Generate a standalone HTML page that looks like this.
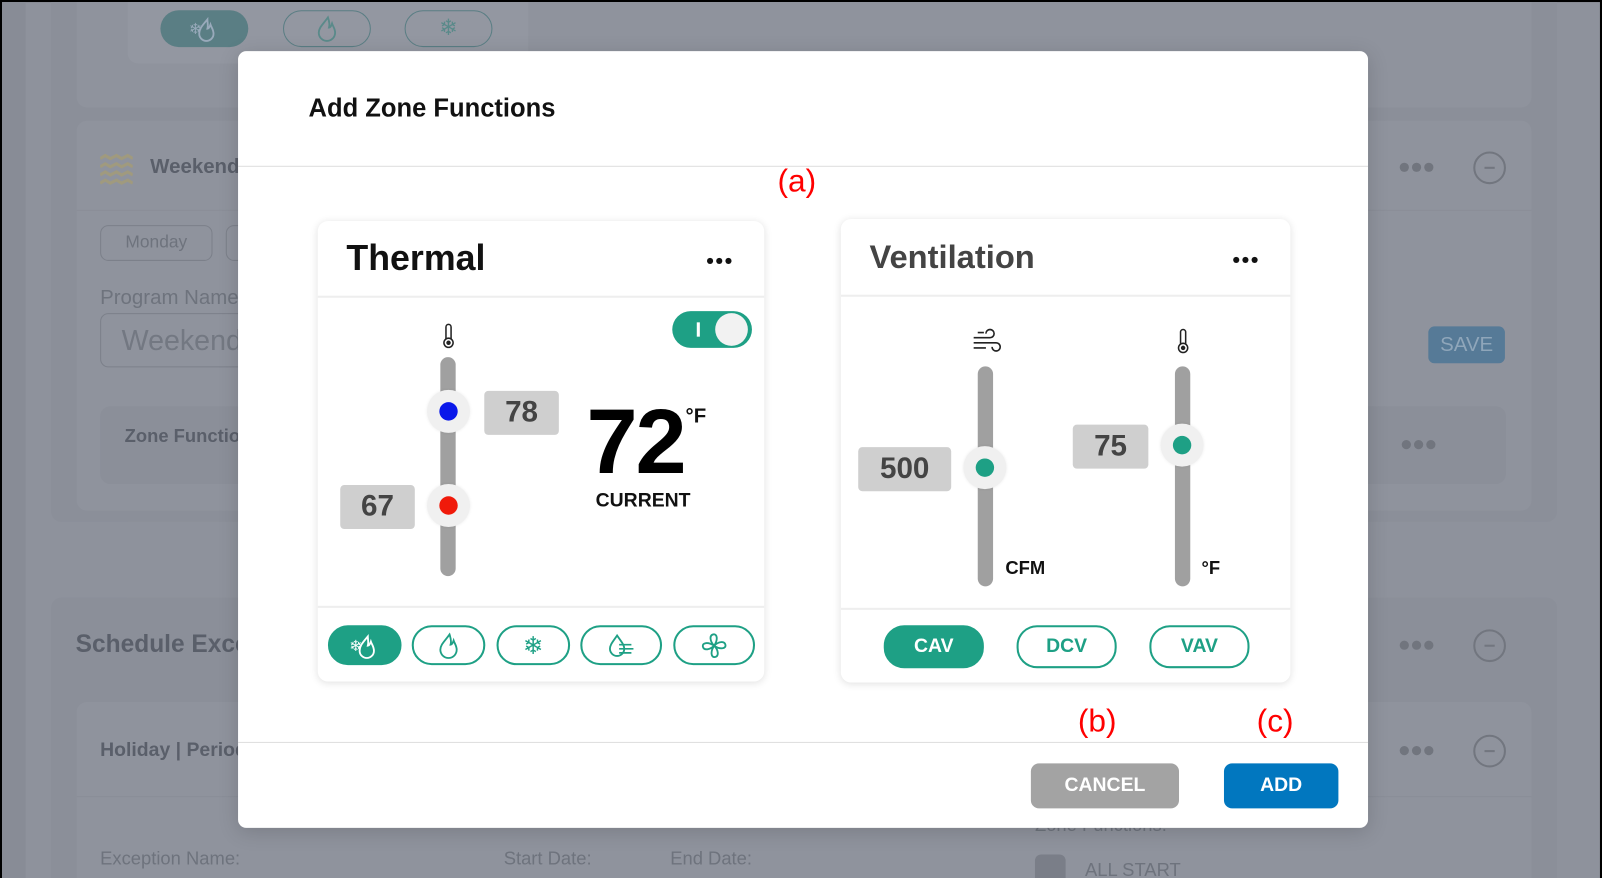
<!DOCTYPE html>
<html><head><meta charset="utf-8"><style>
*{margin:0;padding:0;box-sizing:border-box}
html,body{width:1602px;height:878px;overflow:hidden;background:#000}
#w{position:absolute;left:0;top:0;width:1568px;height:858px;transform:scale(1.02168,1.02331);transform-origin:0 0;background:#000;font-family:"Liberation Sans",sans-serif}
.a{position:absolute}
.bg{left:2px;top:2px;width:1564px;height:856px;background:#8e929c;overflow:hidden}
.dk{color:#5a5f6a;font-weight:bold}
.lt{color:#6e737d}
.pill{position:absolute;border:2px solid #1ea085;border-radius:20px;display:flex;align-items:center;justify-content:center;color:#1ea085;font-weight:bold;font-size:19px;background:#fff}
.pill.f{background:#1ea085;color:#fff}
.box{position:absolute;background:#cfcfcf;border-radius:4px;color:#444;font-weight:bold;font-size:29px;display:flex;align-items:center;justify-content:center}
.track{position:absolute;width:15px;background:#a0a0a0;border-radius:8px}
.knob{position:absolute;width:42px;height:42px;border-radius:50%;background:#f0f0f0;box-shadow:0 0 3px rgba(0,0,0,.08)}
.knob i{position:absolute;left:12px;top:12px;width:18px;height:18px;border-radius:50%}
.dots{position:absolute;font-size:0}
.dots b{display:inline-block;width:6px;height:6px;border-radius:50%;background:#111;margin-right:3px}
.red{position:absolute;color:#f00;font-size:31px;font-family:"Liberation Sans",sans-serif}
.gd b{background:#71757e;width:9px;height:9px;margin-right:3px}
.mn{position:absolute;width:32px;height:32px;border:2px solid #72767f;border-radius:50%}
.mn:after{content:"";position:absolute;left:9px;top:13px;width:10px;height:2px;background:#72767f}
</style></head><body><div id="w">
<div class="a bg">
 <div class="a" style="left:0;top:0;width:23px;height:856px;background:#888c96"></div>
 <div class="a" style="left:48px;top:-10px;width:1474px;height:518px;background:#8b8f99;border-radius:10px"></div>
 <div class="a" style="left:73px;top:-10px;width:1424px;height:113px;background:#8f939d;border-radius:10px"></div>
 <div class="a" style="left:123px;top:-10px;width:392px;height:70px;background:#9397a1;border-radius:10px"></div>
 <div class="a" style="left:155px;top:8px;width:86px;height:36px;background:#5a7e84;border-radius:18px;display:flex;align-items:center;justify-content:center"><svg width="30" height="26" viewBox="0 0 30 26"><text x="0" y="18" font-size="15" fill="#9ab" font-family="DejaVu Sans">❄</text><path d="M18 4c-5 6-8 9-8 14a7 7 0 0 0 14 0c0-4-2-6-3-9-1 3-2 4-3 4 1-3 0-6 0-9z" fill="none" stroke="#9ab" stroke-width="1.8"/></svg></div>
 <div class="a" style="left:275px;top:8px;width:86px;height:36px;border:1.5px solid #5a7e84;border-radius:18px;display:flex;align-items:center;justify-content:center"><svg width="22" height="26" viewBox="0 0 22 26"><path d="M12 2c-5 7-9 10-9 15a8 8 0 0 0 16 0c0-4-2-6-3-9-1 3-2 4-3 4 1-3 0-7-1-10z" fill="none" stroke="#5a8a8a" stroke-width="1.8"/></svg></div>
 <div class="a" style="left:394px;top:8px;width:86px;height:36px;border:1.5px solid #5a7e84;border-radius:18px;color:#5a8a8a;font-size:22px;text-align:center;line-height:33px;font-family:'DejaVu Sans'">❄</div>
 <div class="a" style="left:73px;top:116px;width:1424px;height:381px;background:#8f939d;border-radius:10px"></div>
 <div class="a" style="left:73px;top:203px;width:1424px;height:1px;background:#8a8e98"></div>
 <svg class="a" style="left:96px;top:148px" width="32" height="32" viewBox="0 0 32 32" fill="none" stroke="#a09a7e" stroke-width="3"><path d="M0 5l5-3 5 3 6-3 5 3 6-3 5 3M0 13l5-3 5 3 6-3 5 3 6-3 5 3M0 21l5-3 5 3 6-3 5 3 6-3 5 3M0 29l5-3 5 3 6-3 5 3 6-3 5 3"/></svg>
 <div class="a dk" style="left:145px;top:150px;font-size:20px">Weekend</div>
 <div class="a lt" style="left:96px;top:218px;width:110px;height:35px;border:1.5px solid #7c808a;border-radius:8px;font-size:17px;text-align:center;line-height:32px">Monday</div>
 <div class="a" style="left:219px;top:218px;width:40px;height:35px;border:1.5px solid #7c808a;border-radius:8px"></div>
 <div class="a lt" style="left:96px;top:278px;font-size:20px">Program Name</div>
 <div class="a lt" style="left:96px;top:304px;width:200px;height:53px;border:1.5px solid #7c808a;border-radius:8px;font-size:28px;padding:10px 20px;color:#737882">Weekend</div>
 <div class="a" style="left:96px;top:395px;width:1376px;height:76px;background:#8b8f99;border-radius:10px"></div>
 <div class="a dk" style="left:120px;top:414px;font-size:18px">Zone Functions</div>
 <div class="dots gd" style="left:1368px;top:157px"><b></b><b></b><b></b></div>
 <div class="mn" style="left:1440px;top:146px"></div>
 <div class="a" style="left:1396px;top:317px;width:75px;height:36px;background:#567a97;border-radius:6px;color:#8fa6ba;font-size:20px;text-align:center;line-height:36px">SAVE</div>
 <div class="dots gd" style="left:1370px;top:428px"><b></b><b></b><b></b></div>
 <div class="a" style="left:48px;top:582px;width:1474px;height:300px;background:#8b8f99;border-radius:10px"></div>
 <div class="a dk" style="left:72px;top:614px;font-size:24px">Schedule Exceptions</div>
 <div class="dots gd" style="left:1368px;top:624px"><b></b><b></b><b></b></div>
 <div class="mn" style="left:1440px;top:613px"></div>
 <div class="a" style="left:73px;top:684px;width:1424px;height:200px;background:#8f939d;border-radius:10px"></div>
 <div class="a" style="left:73px;top:776px;width:1424px;height:1px;background:#8a8e98"></div>
 <div class="a dk" style="left:96px;top:721px;font-size:19px">Holiday | Period</div>
 <div class="dots gd" style="left:1368px;top:727px"><b></b><b></b><b></b></div>
 <div class="mn" style="left:1440px;top:716px"></div>
 <div class="a lt" style="left:96px;top:827px;font-size:18px">Exception Name:</div>
 <div class="a lt" style="left:491px;top:827px;font-size:18px">Start Date:</div>
 <div class="a lt" style="left:654px;top:827px;font-size:18px">End Date:</div>
 <div class="a lt" style="left:1011px;top:794px;font-size:18px">Zone Functions:</div>
 <div class="a" style="left:1011px;top:833px;width:30px;height:30px;background:#7a7e88;border-radius:6px"></div>
 <div class="a lt" style="left:1060px;top:838px;font-size:18px">ALL START</div>

 <div class="a" style="left:231px;top:48px;width:1106px;height:759px;background:#fff;border-radius:8px;box-shadow:0 4px 20px rgba(0,0,0,.15)">
  <div class="a" style="left:69px;top:42px;font-size:25px;font-weight:bold;color:#111">Add Zone Functions</div>
  <div class="a" style="left:0;top:112px;width:1106px;height:1px;background:#ddd"></div>
  <div class="a" style="left:0;top:675px;width:1106px;height:1px;background:#ddd"></div>
  <div class="a" style="left:776px;top:696px;width:145px;height:44px;background:#a3a3a3;border-radius:8px;color:#fff;font-weight:bold;font-size:19px;text-align:center;line-height:44px">CANCEL</div>
  <div class="a" style="left:965px;top:696px;width:112px;height:44px;background:#0177bf;border-radius:8px;color:#fff;font-weight:bold;font-size:19px;text-align:center;line-height:44px">ADD</div>
 </div>
 <div class="red" style="left:759px;top:157px">(a)</div>
 <div class="red" style="left:1053px;top:685px">(b)</div>
 <div class="red" style="left:1228px;top:685px">(c)</div>

 <div class="a" style="left:309px;top:214px;width:437px;height:450px;background:#fff;border-radius:10px;box-shadow:0 1px 8px rgba(0,0,0,.12)">
  <div class="a" style="left:28px;top:17px;font-size:35px;font-weight:bold;color:#111">Thermal</div>
  <div class="dots" style="left:381px;top:36px"><b></b><b></b><b></b></div>
  <div class="a" style="left:0;top:73px;width:437px;height:2px;background:#eee"></div>
  <div class="a" style="left:0;top:376px;width:437px;height:2px;background:#eee"></div>
 </div>
 <div class="a" style="left:656px;top:302px;width:78px;height:36px;background:#1ea085;border-radius:18px"><div class="a" style="left:24px;top:11px;width:3px;height:14px;background:#fff"></div><div class="a" style="left:42px;top:2px;width:32px;height:32px;border-radius:50%;background:#f2f2f2"></div></div>
 <svg class="a" style="left:428px;top:314px" width="18" height="26" viewBox="0 0 18 26"><rect x="6.5" y="1" width="5" height="16" rx="2.5" fill="none" stroke="#222" stroke-width="1.5"/><circle cx="9" cy="19" r="4.5" fill="#fff" stroke="#222" stroke-width="1.5"/><circle cx="9" cy="19" r="2.2" fill="#222"/></svg>
 <div class="track" style="left:429px;top:347px;height:214px"></div>
 <div class="knob" style="left:416px;top:379px"><i style="background:#0a18ea"></i></div>
 <div class="knob" style="left:416px;top:471px"><i style="background:#f01a0a"></i></div>
 <div class="box" style="left:472px;top:380px;width:73px;height:43px">78</div>
 <div class="box" style="left:331px;top:472px;width:73px;height:43px">67</div>
 <div class="a" style="left:572px;top:385px;font-size:90px;font-weight:bold;color:#000;letter-spacing:-2px;line-height:90px">72</div>
 <div class="a" style="left:669px;top:394px;font-size:20px;font-weight:bold;color:#111">°F</div>
 <div class="a" style="left:581px;top:477px;font-size:19px;font-weight:bold;color:#111">CURRENT</div>
 <div class="pill f" style="left:319px;top:609px;width:72px;height:39px"><svg width="30" height="26" viewBox="0 0 30 26"><text x="0" y="18" font-size="15" fill="#fff" font-family="DejaVu Sans">❄</text><path d="M18 4c-5 6-8 9-8 14a7 7 0 0 0 14 0c0-4-2-6-3-9-1 3-2 4-3 4 1-3 0-6 0-9z" fill="none" stroke="#fff" stroke-width="1.8"/></svg></div>
 <div class="pill" style="left:401px;top:609px;width:72px;height:39px"><svg width="22" height="26" viewBox="0 0 22 26"><path d="M12 2c-5 7-9 10-9 15a8 8 0 0 0 16 0c0-4-2-6-3-9-1 3-2 4-3 4 1-3 0-7-1-10z" fill="none" stroke="#1ea085" stroke-width="1.8"/></svg></div>
 <div class="pill" style="left:484px;top:609px;width:72px;height:39px;font-family:'DejaVu Sans';font-size:24px;font-weight:normal">❄</div>
 <div class="pill" style="left:566px;top:609px;width:80px;height:39px"><svg width="28" height="26" viewBox="0 0 28 26"><path d="M10 3c-4 6-7 9-7 13a7 7 0 0 0 14 0c0-4-3-7-7-13z" fill="none" stroke="#1ea085" stroke-width="1.8"/><path d="M12 12h12M12 16h14M12 20h12" stroke="#1ea085" stroke-width="1.6"/></svg></div>
 <div class="pill" style="left:657px;top:609px;width:80px;height:39px"><svg width="28" height="28" viewBox="0 0 28 28" fill="none" stroke="#1ea085" stroke-width="1.8"><path d="M14 14C10 10 9 4 13 3s5 5 1 11zM14 14c4-4 10-5 11-1s-5 5-11 1zM14 14c4 4 5 10 1 11s-5-5-1-11zM14 14c-4 4-10 5-11 1s5-5 11-1z"/></svg></div>

 <div class="a" style="left:821px;top:212px;width:440px;height:453px;background:#fff;border-radius:10px;box-shadow:0 1px 8px rgba(0,0,0,.12)">
  <div class="a" style="left:28px;top:19px;font-size:32px;font-weight:bold;color:#444">Ventilation</div>
  <div class="dots" style="left:384px;top:37px"><b></b><b></b><b></b></div>
  <div class="a" style="left:0;top:74px;width:440px;height:2px;background:#eee"></div>
  <div class="a" style="left:0;top:380px;width:440px;height:2px;background:#eee"></div>
 </div>
 <svg class="a" style="left:949px;top:318px" width="30" height="28" viewBox="0 0 30 28" fill="none" stroke="#222" stroke-width="1.6"><path d="M2 10h16a4 4 0 1 0-4-4M2 15h22a4 4 0 1 1-4 4M2 20h12M6 5h6"/></svg>
 <svg class="a" style="left:1147px;top:319px" width="18" height="26" viewBox="0 0 18 26"><rect x="6.5" y="1" width="5" height="16" rx="2.5" fill="none" stroke="#222" stroke-width="1.5"/><circle cx="9" cy="19" r="4.5" fill="#fff" stroke="#222" stroke-width="1.5"/><circle cx="9" cy="19" r="2.2" fill="#222"/></svg>
 <div class="track" style="left:955px;top:356px;height:215px"></div>
 <div class="track" style="left:1148px;top:356px;height:215px"></div>
 <div class="knob" style="left:941px;top:434px"><i style="background:#1ea085"></i></div>
 <div class="knob" style="left:1134px;top:412px"><i style="background:#1ea085"></i></div>
 <div class="box" style="left:838px;top:435px;width:91px;height:43px">500</div>
 <div class="box" style="left:1048px;top:413px;width:74px;height:43px">75</div>
 <div class="a" style="left:982px;top:543px;font-size:18px;font-weight:bold;color:#111">CFM</div>
 <div class="a" style="left:1174px;top:543px;font-size:18px;font-weight:bold;color:#111">°F</div>
 <div class="pill f" style="left:863px;top:609px;width:98px;height:42px">CAV</div>
 <div class="pill" style="left:993px;top:609px;width:98px;height:42px">DCV</div>
 <div class="pill" style="left:1123px;top:609px;width:98px;height:42px">VAV</div>
</div>
</div></body></html>
